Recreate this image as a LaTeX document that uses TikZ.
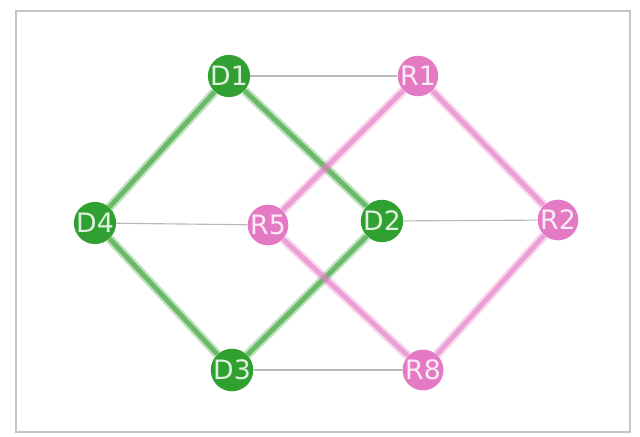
\documentclass[tikz,border=0pt]{standalone}
\usepackage{fontspec}
\setmainfont{DejaVu Sans}
\usetikzlibrary{backgrounds}
\definecolor{dgreen}{RGB}{48,160,48}
\definecolor{rpink}{RGB}{228,122,196}

\begin{document}
\begin{tikzpicture}[x=0.025cm,y=-0.025cm,
  vtx/.style={circle,inner sep=0pt,minimum size=0.92cm,text=white,text opacity=0.85,
    font=\fontsize{19}{19}\selectfont},
  dnode/.style={vtx,fill=dgreen},
  rnode/.style={vtx,fill=rpink},
  fat/.style={draw=#1,line width=0.12cm,draw opacity=0.6,
    preaction={draw=#1,line width=0.23cm,draw opacity=0.3}},
  dedge/.style={fat=dgreen},
  redge/.style={fat=rpink},
  link/.style={draw=gray!55,line width=0.8pt}]
\useasboundingbox (0,0) rectangle (640,436);
\draw[gray!45,line width=1.2pt] (16,11) rectangle (630,432);

\node[dnode] (d1) at (229,76) {D1};
\node[rnode] (r1) at (418,76) {R1};
\node[dnode] (d4) at (95,223) {D4};
\node[rnode] (r5) at (268,225) {R5};
\node[dnode] (d2) at (382,221) {D2};
\node[rnode] (r2) at (558,220) {R2};
\node[dnode] (d3) at (232,370) {D3};
\node[rnode] (r8) at (423,370) {R8};

\begin{scope}[on background layer]
% cross links
\draw[link] (d1) -- (r1);
\draw[link] (d4) -- (r5);
\draw[link] (d2) -- (r2);
\draw[link] (d3) -- (r8);
% the two rings
\draw[dedge] (d1) -- (d4); \draw[dedge] (d1) -- (d2);
\draw[dedge] (d4) -- (d3); \draw[dedge] (d2) -- (d3);
\draw[redge] (r1) -- (r5); \draw[redge] (r1) -- (r2);
\draw[redge] (r5) -- (r8); \draw[redge] (r2) -- (r8);
\end{scope}
\end{tikzpicture}
\end{document}
